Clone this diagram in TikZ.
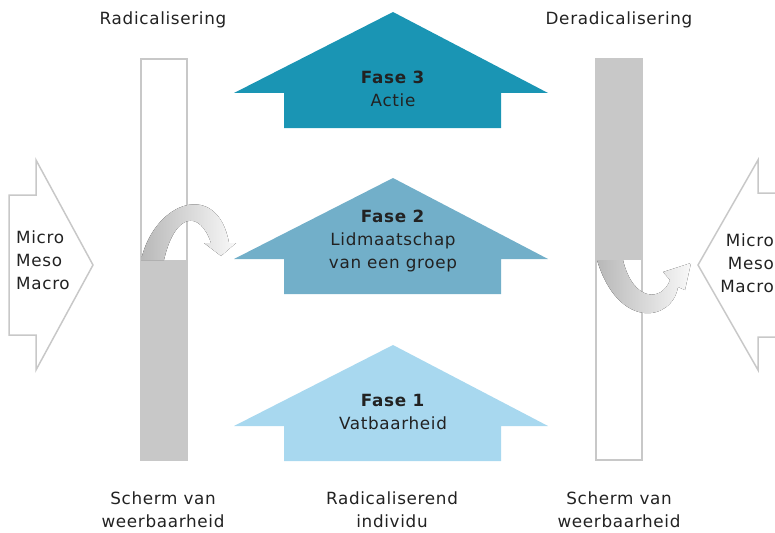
\documentclass[tikz,border=0pt]{standalone}
\usepackage{fontspec}
\setmainfont[LetterSpace=4]{DejaVu Sans}
\usetikzlibrary{positioning}
\definecolor{fasedrie}{HTML}{1A95B4}
\definecolor{fasetwee}{HTML}{72AFC9}
\definecolor{faseeen}{HTML}{A8D8EF}
\definecolor{schermgrijs}{HTML}{C8C8C8}
\definecolor{tekst}{HTML}{222222}

\begin{document}
\begin{tikzpicture}[x=1pt, y=-1pt,
    lbl/.style={font=\fontsize{16.8}{23}\selectfont, text=tekst, align=center, inner sep=0pt},
    scherm/.style={draw=schermgrijs, line width=2pt},
    zijpijl/.style={draw=schermgrijs, line width=1.5pt, line join=miter},
    bocht/.style={left color=schermgrijs!92!black, right color=gray!5}]
    \useasboundingbox (0,0) rectangle (775,532);

    % fase pijlen
    \foreach \t/\c in {12/fasedrie, 178/fasetwee, 345/faseeen}
        \fill[\c] (234,\t+81) -- (393,\t) -- (548,\t+81) -- (501,\t+81) -- (501,\t+116) -- (284,\t+116) -- (284,\t+81) -- cycle;

    \node[lbl] (fase3) at (393,89) {\textbf{Fase 3}\\Actie};
    \node[lbl] (fase2) at (393,241) {\textbf{Fase 2}\\Lidmaatschap\\van een groep};
    \node[lbl] (fase1) at (393,412) {\textbf{Fase 1}\\Vatbaarheid};

    % schermen
    \fill[schermgrijs] (141,260) rectangle (187,460);
    \draw[scherm] (141,59) rectangle (187,460);
    \fill[schermgrijs] (596,59) rectangle (642,260);
    \draw[scherm] (596,59) rectangle (642,460);

    % zijpijlen
    \draw[zijpijl] (9,195) -- (36,195) -- (36,160) -- (93,265) -- (36,370) -- (36,335) -- (9,335) -- cycle;
    \draw[zijpijl] (776,193) -- (758,193) -- (758,160) -- (698,265) -- (758,370) -- (758,337) -- (776,337);
    \node[lbl, align=left, anchor=west] (niveaulinks) at (16,260) {Micro\\Meso\\Macro};
    \node[lbl, align=right, anchor=east] (niveaurechts) at (774,263) {Micro\\Meso\\Macro};

    % gebogen pijlen
    \fill[bocht] (141,260) .. controls (155,200) and (218,180) .. (229,243) -- (236,243) -- (221,256) -- (204,243) -- (211,243)
        .. controls (200,210) and (175,212) .. (164,260) -- cycle;
    \fill[bocht] (597,260) .. controls (618,330) and (672,322) .. (678,287) -- (685,290) -- (691,263) -- (663,272) -- (670,280)
        .. controls (662,302) and (633,302) .. (623,260) -- cycle;

    % titels
    \node[lbl] (radi) at (163,20) {Radicalisering};
    \node[lbl] (deradi) at (619,20) {Deradicalisering};
    \node[lbl] (schermlinks) at (163,510) {Scherm van\\weerbaarheid};
    \node[lbl] (individu) at (392,510) {Radicaliserend\\individu};
    \node[lbl] (schermrechts) at (619,510) {Scherm van\\weerbaarheid};
\end{tikzpicture}
\end{document}
